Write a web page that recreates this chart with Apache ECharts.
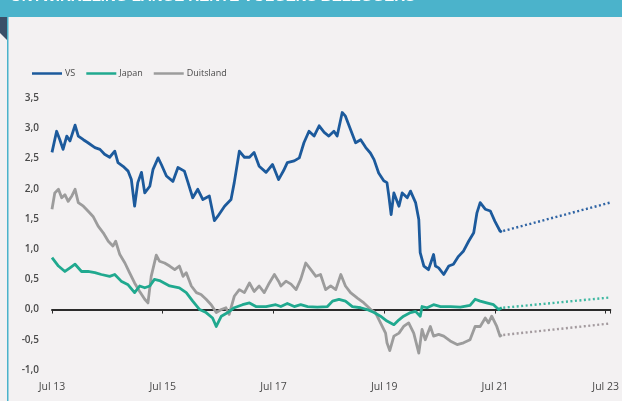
<!DOCTYPE html>
<html>
<head>
<meta charset="utf-8">
<script src="https://cdn.jsdelivr.net/npm/echarts@6/dist/echarts.min.js"></script>
<style>
  html, body { margin: 0; padding: 0; background: #f3f1f2; }
  #chart { width: 622px; height: 401px; }
</style>
</head>
<body>
<div id="chart"></div>
<script>
// x values are months since July 2013; y values are 10-year yields in %
const tickMonths = [0, 24, 48, 72, 96, 120];
const tickLabels = ['Jul 13', 'Jul 15', 'Jul 17', 'Jul 19', 'Jul 21', 'Jul 23'];
const seriesNames = ['VS', 'Japan', 'Duitsland'];

const vs = [[0,2.60],[1,2.95],[1.7,2.81],[2.4,2.65],[3.2,2.87],[3.9,2.79],[5,3.05],[5.7,2.87],[6.8,2.81],[7.8,2.76],[9.3,2.68],[10.4,2.65],[11.4,2.57],[12.5,2.52],[13.6,2.62],[14.3,2.43],[15.4,2.37],[16.5,2.29],[17.2,2.15],[17.9,1.71],[18.6,2.10],[19.4,2.27],[20.1,1.93],[21.2,2.04],[21.9,2.32],[23,2.51],[23.7,2.40],[24.8,2.21],[26.2,2.12],[27.3,2.35],[28.7,2.29],[29.4,2.12],[30.5,1.85],[31.6,1.99],[32.7,1.82],[34.1,1.88],[35.2,1.47],[35.9,1.54],[37.4,1.71],[38.8,1.82],[39.5,2.10],[40.6,2.62],[41.7,2.52],[42.8,2.52],[43.8,2.60],[44.9,2.37],[46.4,2.27],[47.8,2.40],[49.1,2.15],[50.2,2.30],[51,2.43],[52.5,2.46],[53.6,2.51],[54.6,2.76],[55.7,2.95],[56.8,2.87],[57.9,3.04],[59,2.93],[60,2.87],[61.1,2.95],[61.8,2.87],[62.9,3.26],[63.6,3.20],[64.7,2.98],[65.8,2.76],[66.9,2.81],[68,2.68],[69,2.59],[69.8,2.48],[70.8,2.26],[71.9,2.13],[72.6,2.10],[73.0,1.88],[73.5,1.57],[74.1,1.93],[75.2,1.71],[75.9,1.93],[77,1.85],[77.7,1.96],[78.8,1.77],[79.5,1.49],[79.8,0.94],[80.6,0.72],[81.6,0.66],[82.7,0.91],[83.1,0.72],[83.8,0.69],[84.9,0.58],[86,0.72],[87,0.75],[88.1,0.88],[89.2,0.97],[90.3,1.13],[91.4,1.27],[92.1,1.60],[92.8,1.77],[93.9,1.66],[95,1.63],[96,1.46],[97.1,1.30],[97.5,1.28]];

const japan = [[0,0.86],[1.4,0.72],[2.8,0.63],[3.9,0.69],[5,0.75],[6.4,0.63],[7.8,0.63],[9.3,0.61],[10.7,0.58],[12.5,0.55],[13.6,0.58],[15,0.47],[16.5,0.41],[17.9,0.28],[19,0.39],[20.1,0.36],[21.2,0.39],[22.2,0.50],[23.3,0.48],[25.5,0.39],[27.6,0.36],[29.1,0.28],[30.5,0.14],[32,0.0],[33.4,-0.05],[34.8,-0.14],[35.6,-0.28],[36.7,-0.11],[38.1,-0.05],[39.5,0.03],[41.3,0.08],[42.8,0.11],[44.2,0.05],[46.4,0.05],[48.5,0.08],[49.6,0.05],[51,0.10],[52.5,0.05],[53.9,0.08],[55.4,0.05],[57.5,0.04],[59.7,0.05],[60.8,0.14],[62.2,0.17],[63.6,0.14],[65.1,0.05],[66.9,0.03],[68.3,0.0],[69.8,-0.05],[71.2,-0.11],[72.6,-0.19],[74.1,-0.25],[75.2,-0.17],[76.2,-0.11],[77.7,-0.05],[78.8,-0.03],[79.8,-0.11],[80.2,0.05],[81.3,0.03],[82.7,0.08],[84.2,0.05],[86.4,0.05],[88.5,0.04],[90.6,0.07],[91.7,0.17],[92.8,0.14],[94.2,0.11],[95.7,0.08],[96.8,0.0],[97.5,0.03]];

const duitsland = [[0,1.66],[0.6,1.93],[1.4,1.99],[2.1,1.85],[2.8,1.90],[3.5,1.79],[4.3,1.88],[5,1.99],[5.7,1.77],[6.8,1.71],[7.8,1.63],[8.9,1.54],[10,1.38],[11.1,1.27],[12.2,1.13],[13.2,1.05],[13.8,1.13],[14.7,0.91],[15.8,0.77],[16.8,0.61],[17.9,0.44],[19,0.30],[20.1,0.17],[20.8,0.11],[21.5,0.55],[22.6,0.90],[23.3,0.80],[24.4,0.77],[25.5,0.72],[26.6,0.66],[27.6,0.72],[28.4,0.55],[29.1,0.61],[30.2,0.39],[31.3,0.28],[32.3,0.25],[33.4,0.17],[34.5,0.08],[35.6,-0.05],[36.7,0.0],[37.7,0.03],[38.4,-0.08],[39.5,0.22],[40.6,0.33],[41.7,0.28],[42.8,0.44],[43.8,0.30],[44.9,0.39],[46,0.28],[47.1,0.44],[48.2,0.58],[49.1,0.47],[49.6,0.39],[50.7,0.47],[51.8,0.42],[52.9,0.33],[53.9,0.50],[55,0.77],[56.1,0.66],[57.2,0.55],[58.2,0.58],[59.3,0.33],[60.4,0.39],[61.5,0.33],[62.6,0.58],[63.6,0.39],[64.7,0.28],[66.2,0.19],[67.6,0.11],[69.1,0.0],[70.1,-0.05],[71.2,-0.22],[72.3,-0.39],[72.6,-0.55],[73.2,-0.68],[74.1,-0.44],[75.2,-0.39],[76.2,-0.28],[77.3,-0.22],[78.4,-0.39],[79.5,-0.72],[80.2,-0.33],[80.9,-0.50],[82,-0.28],[82.7,-0.44],[83.8,-0.41],[84.9,-0.44],[86.3,-0.52],[87.8,-0.58],[89.2,-0.55],[90.6,-0.50],[91.7,-0.28],[92.8,-0.28],[93.9,-0.14],[94.6,-0.22],[95.3,-0.11],[96.4,-0.28],[97.1,-0.44],[97.5,-0.42]];

// expected path after the last observation
const vsForecast = [[97.8,1.30],[121,1.77]];
const japanForecast = [[97.8,0.03],[121,0.20]];
const duitslandForecast = [[97.8,-0.42],[121,-0.23]];

const colors = { vs: '#1c5a9c', japan: '#20a98f', duitsland: '#9c9c9c' };
const fontFamily = '"Open Sans", "Liberation Sans", sans-serif';

const chart = echarts.init(document.getElementById('chart'), null, { renderer: 'canvas' });

function solid(name, data, color) {
  return {
    name, type: 'line', data, showSymbol: false, symbol: 'none',
    lineStyle: { color, width: 2.8, join: 'round' },
    itemStyle: { color }, z: 3, silent: true
  };
}
function dotted(data, color) {
  return {
    type: 'line', data, showSymbol: false, symbol: 'none',
    lineStyle: { color, width: 2.4, type: [2, 2.5] }, z: 3, silent: true
  };
}

chart.setOption({
  animation: false,
  backgroundColor: '#f3f1f2',
  textStyle: { fontFamily },
  graphic: [
    { type: 'rect', shape: { x: 0, y: 0, width: 622, height: 17 }, style: { fill: '#4bb3cb' }, z: 10 },
    { type: 'text', x: 10, y: -3.5, style: { text: 'ONTWIKKELING LANGE RENTE VOLGENS BELEGGERS', fill: '#ffffff', font: 'bold 15px "Liberation Sans", sans-serif', verticalAlign: 'middle' }, z: 11 },
    { type: 'rect', shape: { x: 7, y: 17, width: 1.5, height: 384 }, style: { fill: '#4bb3cb' }, z: 10 },
    { type: 'polygon', shape: { points: [[0, 17], [7, 17], [7, 40], [0, 33]] }, style: { fill: '#3a4f68' }, z: 10 }
  ],
  legend: {
    data: seriesNames.map(n => ({ name: n, icon: 'rect' })),
    left: 27, top: 64,
    itemWidth: 30, itemHeight: 2.5, itemGap: 11,
    textStyle: { color: '#4a4a4a', fontSize: 9, fontFamily, padding: [0, 0, 0, -2] }
  },
  grid: { left: 52, right: 10, top: 98, bottom: 31 },
  xAxis: [
    {
      type: 'value', min: 0, max: 121, interval: 24,
      axisLine: { show: false, onZero: false },
      axisTick: { show: false },
      splitLine: { show: false },
      axisLabel: {
        color: '#4a4a4a', fontSize: 10.5, margin: 12, fontFamily,
        formatter: v => { const i = tickMonths.indexOf(v); return i >= 0 ? tickLabels[i] : ''; }
      }
    },
    {
      type: 'value', min: 0, max: 121, interval: 24, position: 'bottom',
      axisLine: { show: true, onZero: true, lineStyle: { color: '#2b2b2b', width: 2 } },
      axisTick: { show: true, length: 4, lineStyle: { color: '#2b2b2b', width: 1 } },
      axisLabel: { show: false },
      splitLine: { show: false }
    }
  ],
  yAxis: {
    type: 'value', min: -1, max: 3.5, interval: 0.5,
    axisLine: { show: false }, axisTick: { show: false }, splitLine: { show: false },
    axisLabel: {
      color: '#4a4a4a', fontSize: 10, fontWeight: 600, margin: 13, fontFamily,
      formatter: v => v.toFixed(1).replace('.', ',')
    }
  },
  series: [
    solid('Duitsland', duitsland, colors.duitsland),
    solid('Japan', japan, colors.japan),
    solid('VS', vs, colors.vs),
    dotted(duitslandForecast, '#a39a9e'),
    dotted(japanForecast, '#3fb8a2'),
    dotted(vsForecast, '#2f64a4')
  ]
});
</script>
</body>
</html>
